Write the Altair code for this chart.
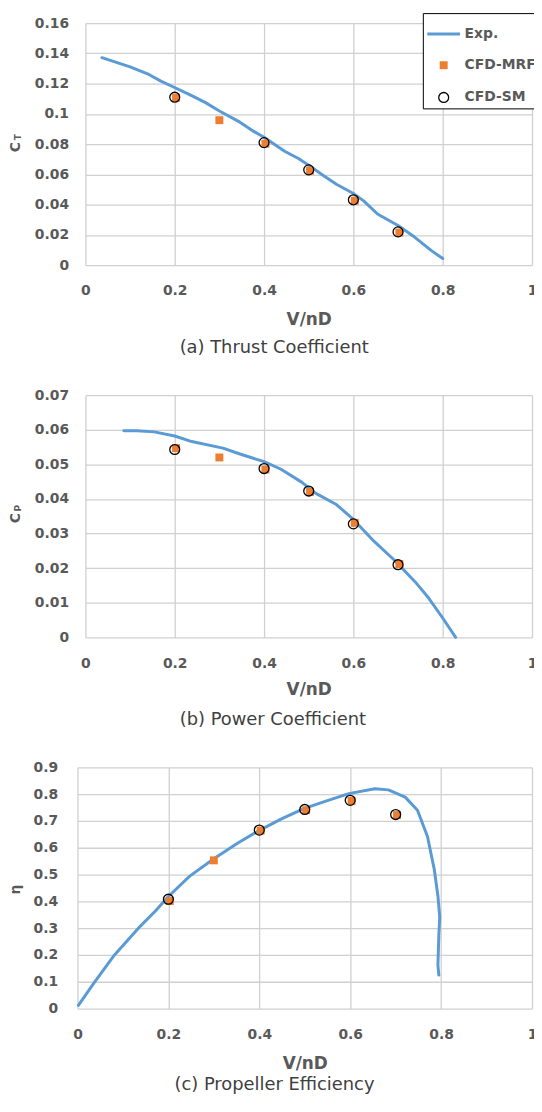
import altair as alt
import pandas as pd

BLUE = "#5b9bd5"
ORANGE = "#ed7d31"
GREY = "#595959"
SERIES = ["Exp.", "CFD-MRF", "CFD-SM"]
X_TICKS = [0, 0.2, 0.4, 0.6, 0.8, 1]

# ---- (a) Thrust coefficient ----
EXP_A_X = [0.037, 0.100, 0.142, 0.169, 0.196, 0.238, 0.269, 0.300, 0.346, 0.377, 0.400,
           0.446, 0.477, 0.500, 0.531, 0.562, 0.600, 0.623, 0.654, 0.700, 0.737, 0.774, 0.800]
EXP_A_Y = [0.1371, 0.1310, 0.1260, 0.1216, 0.1179, 0.1120, 0.1074, 0.1019, 0.0945, 0.0884, 0.0845,
           0.0753, 0.0705, 0.0661, 0.0596, 0.0535, 0.0474, 0.0425, 0.0338, 0.0262, 0.0186, 0.0098, 0.0044]
MRF_X = [0.203, 0.300, 0.403, 0.503, 0.603, 0.703]
SM_X = [0.200, 0.400, 0.500, 0.600, 0.700]
MRF_A = [0.1107, 0.0958, 0.0803, 0.0624, 0.0426, 0.0216]
SM_A = [0.1110, 0.0810, 0.0630, 0.0432, 0.0220]
Y_TICKS_A = [0, 0.02, 0.04, 0.06, 0.08, 0.1, 0.12, 0.14, 0.16]

# ---- (b) Power coefficient ----
EXP_B_X = [0.086, 0.115, 0.154, 0.200, 0.238, 0.308, 0.346, 0.400, 0.438, 0.485, 0.515,
           0.562, 0.600, 0.646, 0.692, 0.738, 0.769, 0.800, 0.829]
EXP_B_Y = [0.0597, 0.0597, 0.0594, 0.0582, 0.0566, 0.0547, 0.0530, 0.0508, 0.0486, 0.0448, 0.0417,
           0.0384, 0.0341, 0.0278, 0.0223, 0.0161, 0.0113, 0.0056, 0.0]
MRF_B = [0.0547, 0.0520, 0.0485, 0.0420, 0.0331, 0.0212]
SM_B = [0.0543, 0.0488, 0.0423, 0.0328, 0.0210]
Y_TICKS_B = [0, 0.01, 0.02, 0.03, 0.04, 0.05, 0.06, 0.07]

# ---- (c) Propeller efficiency ----
EXP_C_X = [0.002, 0.036, 0.081, 0.134, 0.172, 0.200, 0.247, 0.300, 0.352, 0.399, 0.450, 0.498,
           0.548, 0.597, 0.654, 0.684, 0.721, 0.748, 0.770, 0.785, 0.793, 0.797, 0.795, 0.793, 0.795]
EXP_C_Y = [0.012, 0.095, 0.199, 0.300, 0.365, 0.418, 0.494, 0.559, 0.617, 0.664, 0.709, 0.746,
           0.775, 0.802, 0.820, 0.816, 0.789, 0.740, 0.642, 0.519, 0.420, 0.341, 0.273, 0.162, 0.125]
MRF_C = [0.401, 0.553, 0.664, 0.740, 0.775, 0.722]
SM_C = [0.408, 0.666, 0.743, 0.777, 0.724]
Y_TICKS_C = [0, 0.1, 0.2, 0.3, 0.4, 0.5, 0.6, 0.7, 0.8, 0.9]

INDEP = dict(x="independent", y="independent", shape="independent", fill="independent",
             stroke="independent", size="independent", strokeWidth="independent")


def panel(exp_x, exp_y, mrf_y, sm_y, ydom, yticks, height, xrange, ylabel_pad, caption,
          cap_offset, xtitle_pad, ymain, ysub, title_x, title_y, with_legend):
    exp_df = pd.DataFrame({"x": exp_x, "y": exp_y, "order": list(range(len(exp_x)))})
    xaxis = alt.Axis(values=X_TICKS, format="~g", title="V/nD", labelPadding=19,
                     titlePadding=xtitle_pad)
    yaxis = alt.Axis(values=yticks, format="~g", title=None, labelPadding=ylabel_pad)
    xscale = alt.Scale(domain=[0, 1], nice=False, range=xrange)
    yscale = alt.Scale(domain=ydom, nice=False)
    line = alt.Chart(exp_df).mark_line(color=BLUE, strokeWidth=3, strokeJoin="round",
                                       strokeCap="round").encode(
        x=alt.X("x:Q", scale=xscale, axis=xaxis),
        y=alt.Y("y:Q", scale=yscale, axis=yaxis),
        order="order:Q")
    pts_df = pd.DataFrame({
        "x": MRF_X + SM_X,
        "y": mrf_y + sm_y,
        "series": ["CFD-MRF"] * len(MRF_X) + ["CFD-SM"] * len(SM_X),
    })
    leg = None
    if with_legend:
        leg = alt.Legend(title=None, orient="none", legendX=340, legendY=-10,
                         direction="vertical", fillColor="white", strokeColor="black",
                         padding=3, labelOffset=3, labelFont="DejaVu Sans",
                         labelFontSize=14, labelFontWeight="bold", labelColor=GREY,
                         rowPadding=17.5, symbolOpacity=1)
    pts = alt.Chart(pts_df).mark_point(filled=True, opacity=1).encode(
        x=alt.X("x:Q", scale=xscale, axis=xaxis),
        y=alt.Y("y:Q", scale=yscale, axis=yaxis),
        shape=alt.Shape("series:N", scale=alt.Scale(domain=SERIES, range=["stroke", "square", "circle"]), legend=leg),
        fill=alt.Fill("series:N", scale=alt.Scale(domain=SERIES, range=[BLUE, ORANGE, "transparent"]), legend=leg),
        stroke=alt.Stroke("series:N", scale=alt.Scale(domain=SERIES, range=[BLUE, "transparent", "black"]), legend=leg),
        size=alt.Size("series:N", scale=alt.Scale(type="ordinal", domain=SERIES, range=[1089, 64, 100]), legend=leg),
        strokeWidth=alt.StrokeWidth("series:N", scale=alt.Scale(type="ordinal", domain=SERIES, range=[3, 0, 1.3]), legend=leg),
    )
    one = pd.DataFrame({"k": [0]})
    layers = [line, pts]
    main = alt.Chart(one).mark_text(text=ymain, angle=270, font="DejaVu Sans", fontSize=14,
                                    fontWeight="bold", color=GREY, align="center",
                                    baseline="alphabetic").encode(
        x=alt.value(title_x), y=alt.value(title_y))
    layers.append(main)
    if ysub:
        sub = alt.Chart(one).mark_text(text=ysub, angle=270, font="DejaVu Sans", fontSize=9,
                                       fontWeight="bold", color=GREY, align="center",
                                       baseline="alphabetic").encode(
            x=alt.value(title_x + 1.5), y=alt.value(title_y - 10))
        layers.append(sub)
    p = alt.layer(*layers).properties(
        width=450, height=height,
        title=alt.TitleParams(caption, orient="bottom", anchor="middle", frame="bounds",
                              font="DejaVu Sans", fontSize=18, fontWeight="normal",
                              color="#404040", offset=cap_offset),
    )
    return alt.hconcat(p).resolve_scale(**INDEP)


pa = panel(EXP_A_X, EXP_A_Y, MRF_A, SM_A, [0, 0.16], Y_TICKS_A, 244, [0, 450], 17,
           "(a) Thrust Coefficient", 11, 14, "C", "T", -66, 125, True)
pb = panel(EXP_B_X, EXP_B_Y, MRF_B, SM_B, [0, 0.07], Y_TICKS_B, 244, [0, 450], 17,
           "(b) Power Coefficient", 13, 12, "C", "P", -66, 124, False)
pc = panel(EXP_C_X, EXP_C_Y, MRF_C, SM_C, [0, 0.9], Y_TICKS_C, 243, [-8, 450], 28,
           "(c) Propeller Efficiency", 5, 14, "η", None, -66, 123, False)

chart = alt.vconcat(pa, pb, pc, spacing=32).resolve_scale(**INDEP).properties(
    padding={"left": 1, "top": 0, "right": -6, "bottom": 1}
).configure_view(strokeWidth=0).configure_axis(
    grid=True, gridColor="#d0d0d0", gridWidth=1.3, domain=False, ticks=False,
    labelFont="DejaVu Sans", labelFontSize=14, labelFontWeight="bold", labelColor=GREY,
    titleFont="DejaVu Sans", titleFontSize=17, titleFontWeight="bold", titleColor=GREY,
    labelFlush=False, labelOverlap=False,
)

chart.save("out.html", embed_options={"renderer": "svg", "actions": False})
